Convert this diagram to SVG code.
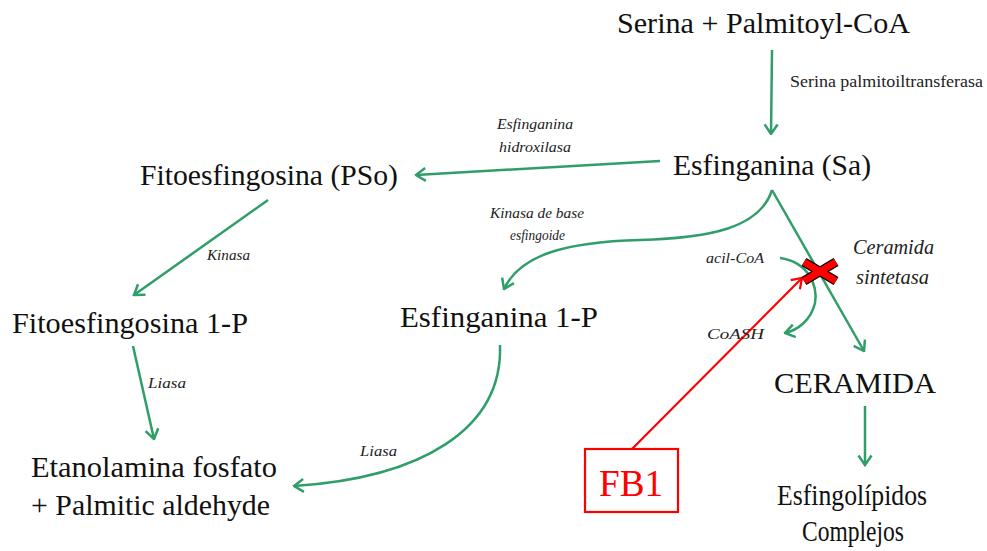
<svg xmlns="http://www.w3.org/2000/svg" width="987" height="551" viewBox="0 0 987 551">
<style>
.t{fill:#111;font-size:30px}
.e{font-style:italic;fill:#222;font-size:15.5px}
.c{font-style:italic;fill:#222;font-size:21px}
.s{fill:#222;font-size:16px}
.g{fill:none;stroke:#2f9e68;stroke-width:2.5}
.r{fill:none;stroke:#ff0000;stroke-width:2.2}
</style>
<defs>
<marker id="ag" viewBox="0 0 12 16" markerWidth="12" markerHeight="16" refX="10.5" refY="8" orient="auto" markerUnits="userSpaceOnUse">
<path d="M1,1.5 L10.5,8 L1,14.5" fill="none" stroke="#2f9e68" stroke-width="2.5"/>
</marker>
<marker id="ar" viewBox="0 0 12 16" markerWidth="12" markerHeight="16" refX="10.5" refY="8" orient="auto" markerUnits="userSpaceOnUse">
<path d="M1,1.5 L10.5,8 L1,14.5" fill="none" stroke="#ff0000" stroke-width="2.2"/>
</marker>
</defs>
<rect width="987" height="551" fill="#fff"/>

<g id="connectors">
<line class="g" x1="772" y1="50" x2="771" y2="134" marker-end="url(#ag)"/>
<line class="g" x1="660" y1="161" x2="416" y2="175" marker-end="url(#ag)"/>
<line class="g" x1="268" y1="200" x2="134" y2="295" marker-end="url(#ag)"/>
<line class="g" x1="133" y1="346" x2="154" y2="439" marker-end="url(#ag)"/>
<path class="g" d="M500,345 C503,430 420,478 294,486" marker-end="url(#ag)"/>
<path class="g" d="M772,190 C760,228 710,238 640,240 C565,242 520,255 504,289" marker-end="url(#ag)"/>
<line class="g" x1="772" y1="190" x2="864" y2="351" marker-end="url(#ag)"/>
<path class="g" d="M780,258 C808,262 818,285 815,303 C811,320 798,330 785,333" marker-end="url(#ag)"/>
<line class="g" x1="865" y1="406" x2="865" y2="465" marker-end="url(#ag)"/>
<line class="r" x1="632" y1="449" x2="802" y2="278" marker-end="url(#ar)"/>
</g>

<g id="block-x">
<line x1="804" y1="262" x2="836" y2="281" stroke="#000" stroke-width="9.5"/>
<line x1="804" y1="281" x2="836" y2="262" stroke="#000" stroke-width="9.5"/>
<line x1="804" y1="262" x2="836" y2="281" stroke="#ff0000" stroke-width="7"/>
<line x1="804" y1="281" x2="836" y2="262" stroke="#ff0000" stroke-width="7"/>
</g>

<g font-family="Liberation Serif, Times New Roman, serif">
<g id="serina"><text class="t" x="617" y="33" textLength="293" lengthAdjust="spacingAndGlyphs">Serina + Palmitoyl-CoA</text></g>
<g id="esfinganina"><text class="t" x="673" y="175" textLength="198" lengthAdjust="spacingAndGlyphs">Esfinganina (Sa)</text></g>
<g id="fitoesfingosina"><text class="t" x="140" y="185" textLength="258" lengthAdjust="spacingAndGlyphs">Fitoesfingosina (PSo)</text></g>
<g id="fitoesfingosina1p"><text class="t" x="12" y="333" textLength="236" lengthAdjust="spacingAndGlyphs">Fitoesfingosina 1-P</text></g>
<g id="esfinganina1p"><text class="t" x="400" y="327" textLength="198" lengthAdjust="spacingAndGlyphs">Esfinganina 1-P</text></g>
<g id="etanolamina">
<text class="t" x="31" y="477" textLength="246" lengthAdjust="spacingAndGlyphs">Etanolamina fosfato</text>
<text class="t" x="31" y="515" textLength="239" lengthAdjust="spacingAndGlyphs">+ Palmitic aldehyde</text>
</g>
<g id="ceramida"><text class="t" x="774" y="393" textLength="162" lengthAdjust="spacingAndGlyphs">CERAMIDA</text></g>
<g id="complejos">
<text class="t" x="777" y="505" textLength="150" lengthAdjust="spacingAndGlyphs">Esfingolípidos</text>
<text class="t" x="802" y="541" textLength="102" lengthAdjust="spacingAndGlyphs">Complejos</text>
</g>
<g id="fb1">
<rect x="585" y="449" width="93" height="63" fill="#fff" stroke="#ff0000" stroke-width="2.2"/>
<text x="631" y="496" text-anchor="middle" font-size="38" fill="#ff0000" textLength="64" lengthAdjust="spacingAndGlyphs">FB1</text>
</g>

<g id="labels">
<text class="s" x="790" y="87" textLength="193" lengthAdjust="spacingAndGlyphs">Serina palmitoiltransferasa</text>
<text class="e" x="497" y="129" textLength="76" lengthAdjust="spacingAndGlyphs">Esfinganina</text>
<text class="e" x="499" y="152" textLength="72" lengthAdjust="spacingAndGlyphs">hidroxilasa</text>
<text class="e" x="490" y="218" textLength="94" lengthAdjust="spacingAndGlyphs">Kinasa de base</text>
<text class="e" x="510" y="240" textLength="55" lengthAdjust="spacingAndGlyphs">esfingoide</text>
<text class="e" x="207" y="260" textLength="43" lengthAdjust="spacingAndGlyphs">Kinasa</text>
<text class="e" x="148" y="388" textLength="38" lengthAdjust="spacingAndGlyphs">Liasa</text>
<text class="e" x="360" y="456" textLength="37" lengthAdjust="spacingAndGlyphs">Liasa</text>
<text class="e" x="706" y="263" textLength="58" lengthAdjust="spacingAndGlyphs">acil-CoA</text>
<text class="e" x="707" y="339" textLength="57" lengthAdjust="spacingAndGlyphs">CoASH</text>
<text class="c" x="853" y="254" textLength="81" lengthAdjust="spacingAndGlyphs">Ceramida</text>
<text class="c" x="856" y="284" textLength="73" lengthAdjust="spacingAndGlyphs">sintetasa</text>
</g>
</g>
</svg>
